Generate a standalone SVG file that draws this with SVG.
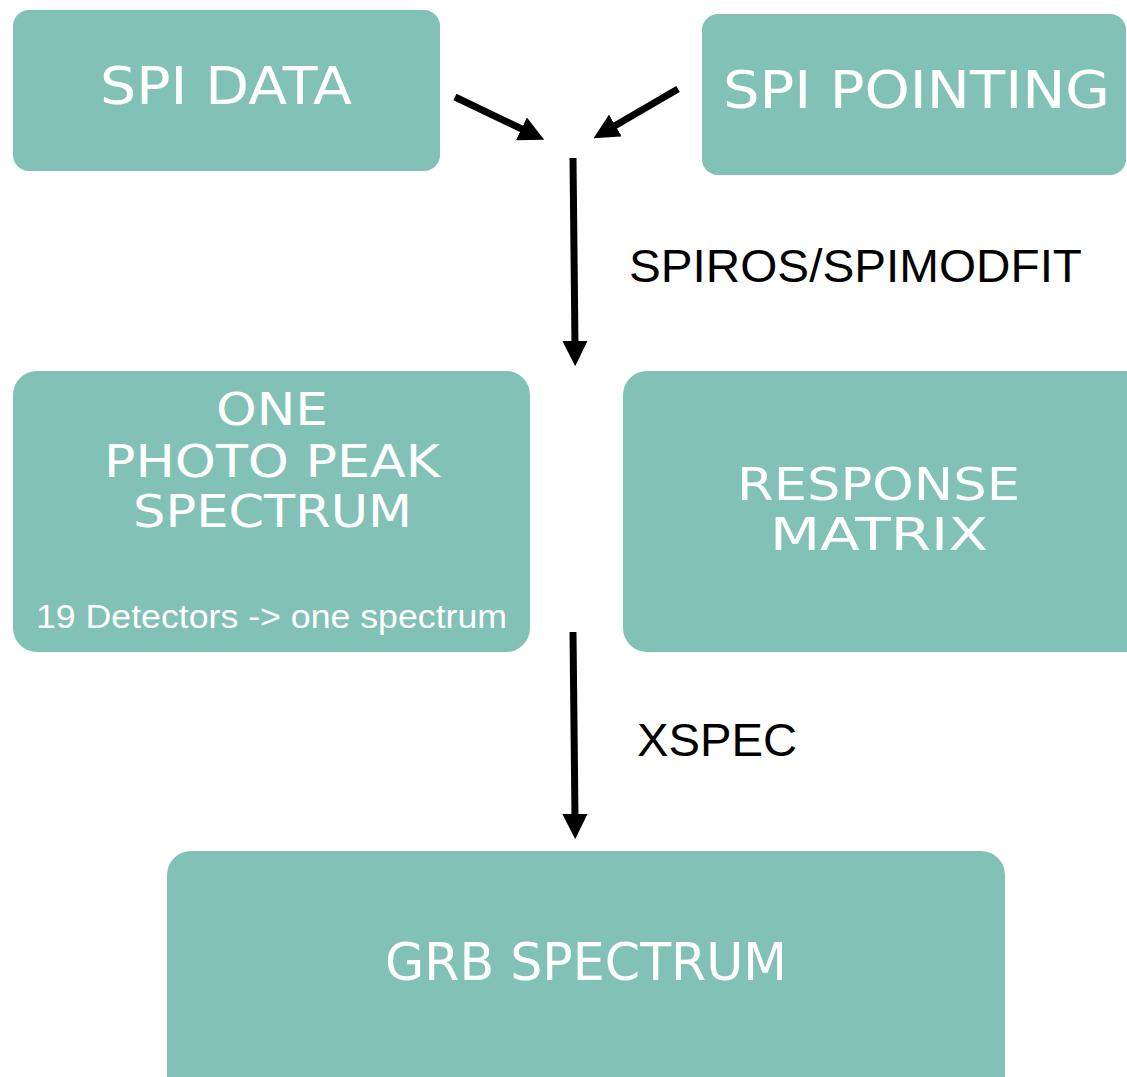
<svg xmlns="http://www.w3.org/2000/svg" width="1127" height="1077" viewBox="0 0 1127 1077">
<style>
.box{fill:#82C1B5}
.t{font-family:"Comic Sans MS","DejaVu Sans","Liberation Sans",sans-serif;fill:#fff;font-size:52px}
.m{font-size:44px}
.s{font-family:"Liberation Sans",Arial,sans-serif;fill:#fff;font-size:33px}
.l{font-family:"Liberation Sans",Arial,sans-serif;fill:#000;font-size:46px}
.c{stroke:#000;stroke-width:7;fill:none}
</style>
<defs>
<marker id="ah" viewBox="0 0 10 10" refX="2" refY="5" markerWidth="3.6" markerHeight="3.6" markerUnits="strokeWidth" orient="auto">
<path d="M0,0 L10,5 L0,10 Z" fill="#000"/>
</marker>
</defs>
<rect width="1127" height="1077" fill="#fff"/>
<g id="spi-data"><rect class="box" x="13" y="10" width="427" height="161" rx="16"/>
<text class="t" x="100" y="104" textLength="252" lengthAdjust="spacingAndGlyphs">SPI DATA</text></g>
<g id="spi-pointing"><rect class="box" x="702" y="14" width="424" height="161" rx="16"/>
<text class="t" x="723" y="108" textLength="387" lengthAdjust="spacingAndGlyphs">SPI POINTING</text></g>
<g id="photo-peak"><rect class="box" x="13" y="371" width="517" height="281" rx="24"/>
<text class="t m" x="216" y="425" textLength="112" lengthAdjust="spacingAndGlyphs">ONE</text>
<text class="t m" x="104" y="477" textLength="336" lengthAdjust="spacingAndGlyphs">PHOTO PEAK</text>
<text class="t m" x="133" y="527" textLength="279" lengthAdjust="spacingAndGlyphs">SPECTRUM</text>
<text class="s" x="36" y="628" textLength="471" lengthAdjust="spacingAndGlyphs">19 Detectors -&gt; one spectrum</text></g>
<g id="response-matrix"><rect class="box" x="623" y="371" width="530" height="281" rx="24"/>
<text class="t m" x="737" y="500" textLength="283" lengthAdjust="spacingAndGlyphs">RESPONSE</text>
<text class="t m" x="770" y="550" textLength="218" lengthAdjust="spacingAndGlyphs">MATRIX</text></g>
<g id="grb-spectrum"><rect class="box" x="167" y="851" width="838" height="250" rx="24"/>
<text class="t" x="385" y="980" textLength="402" lengthAdjust="spacingAndGlyphs">GRB SPECTRUM</text></g>
<g id="connectors">
<line class="c" x1="455" y1="97" x2="526" y2="131" marker-end="url(#ah)"/>
<line class="c" x1="678" y1="89" x2="611" y2="128" marker-end="url(#ah)"/>
<line class="c" x1="573" y1="158" x2="575" y2="346" marker-end="url(#ah)"/>
<line class="c" x1="573" y1="632" x2="575" y2="819" marker-end="url(#ah)"/>
<text class="l" x="629" y="282" textLength="453" lengthAdjust="spacingAndGlyphs">SPIROS/SPIMODFIT</text>
<text class="l" x="637" y="756" textLength="160" lengthAdjust="spacingAndGlyphs">XSPEC</text>
</g>
</svg>
